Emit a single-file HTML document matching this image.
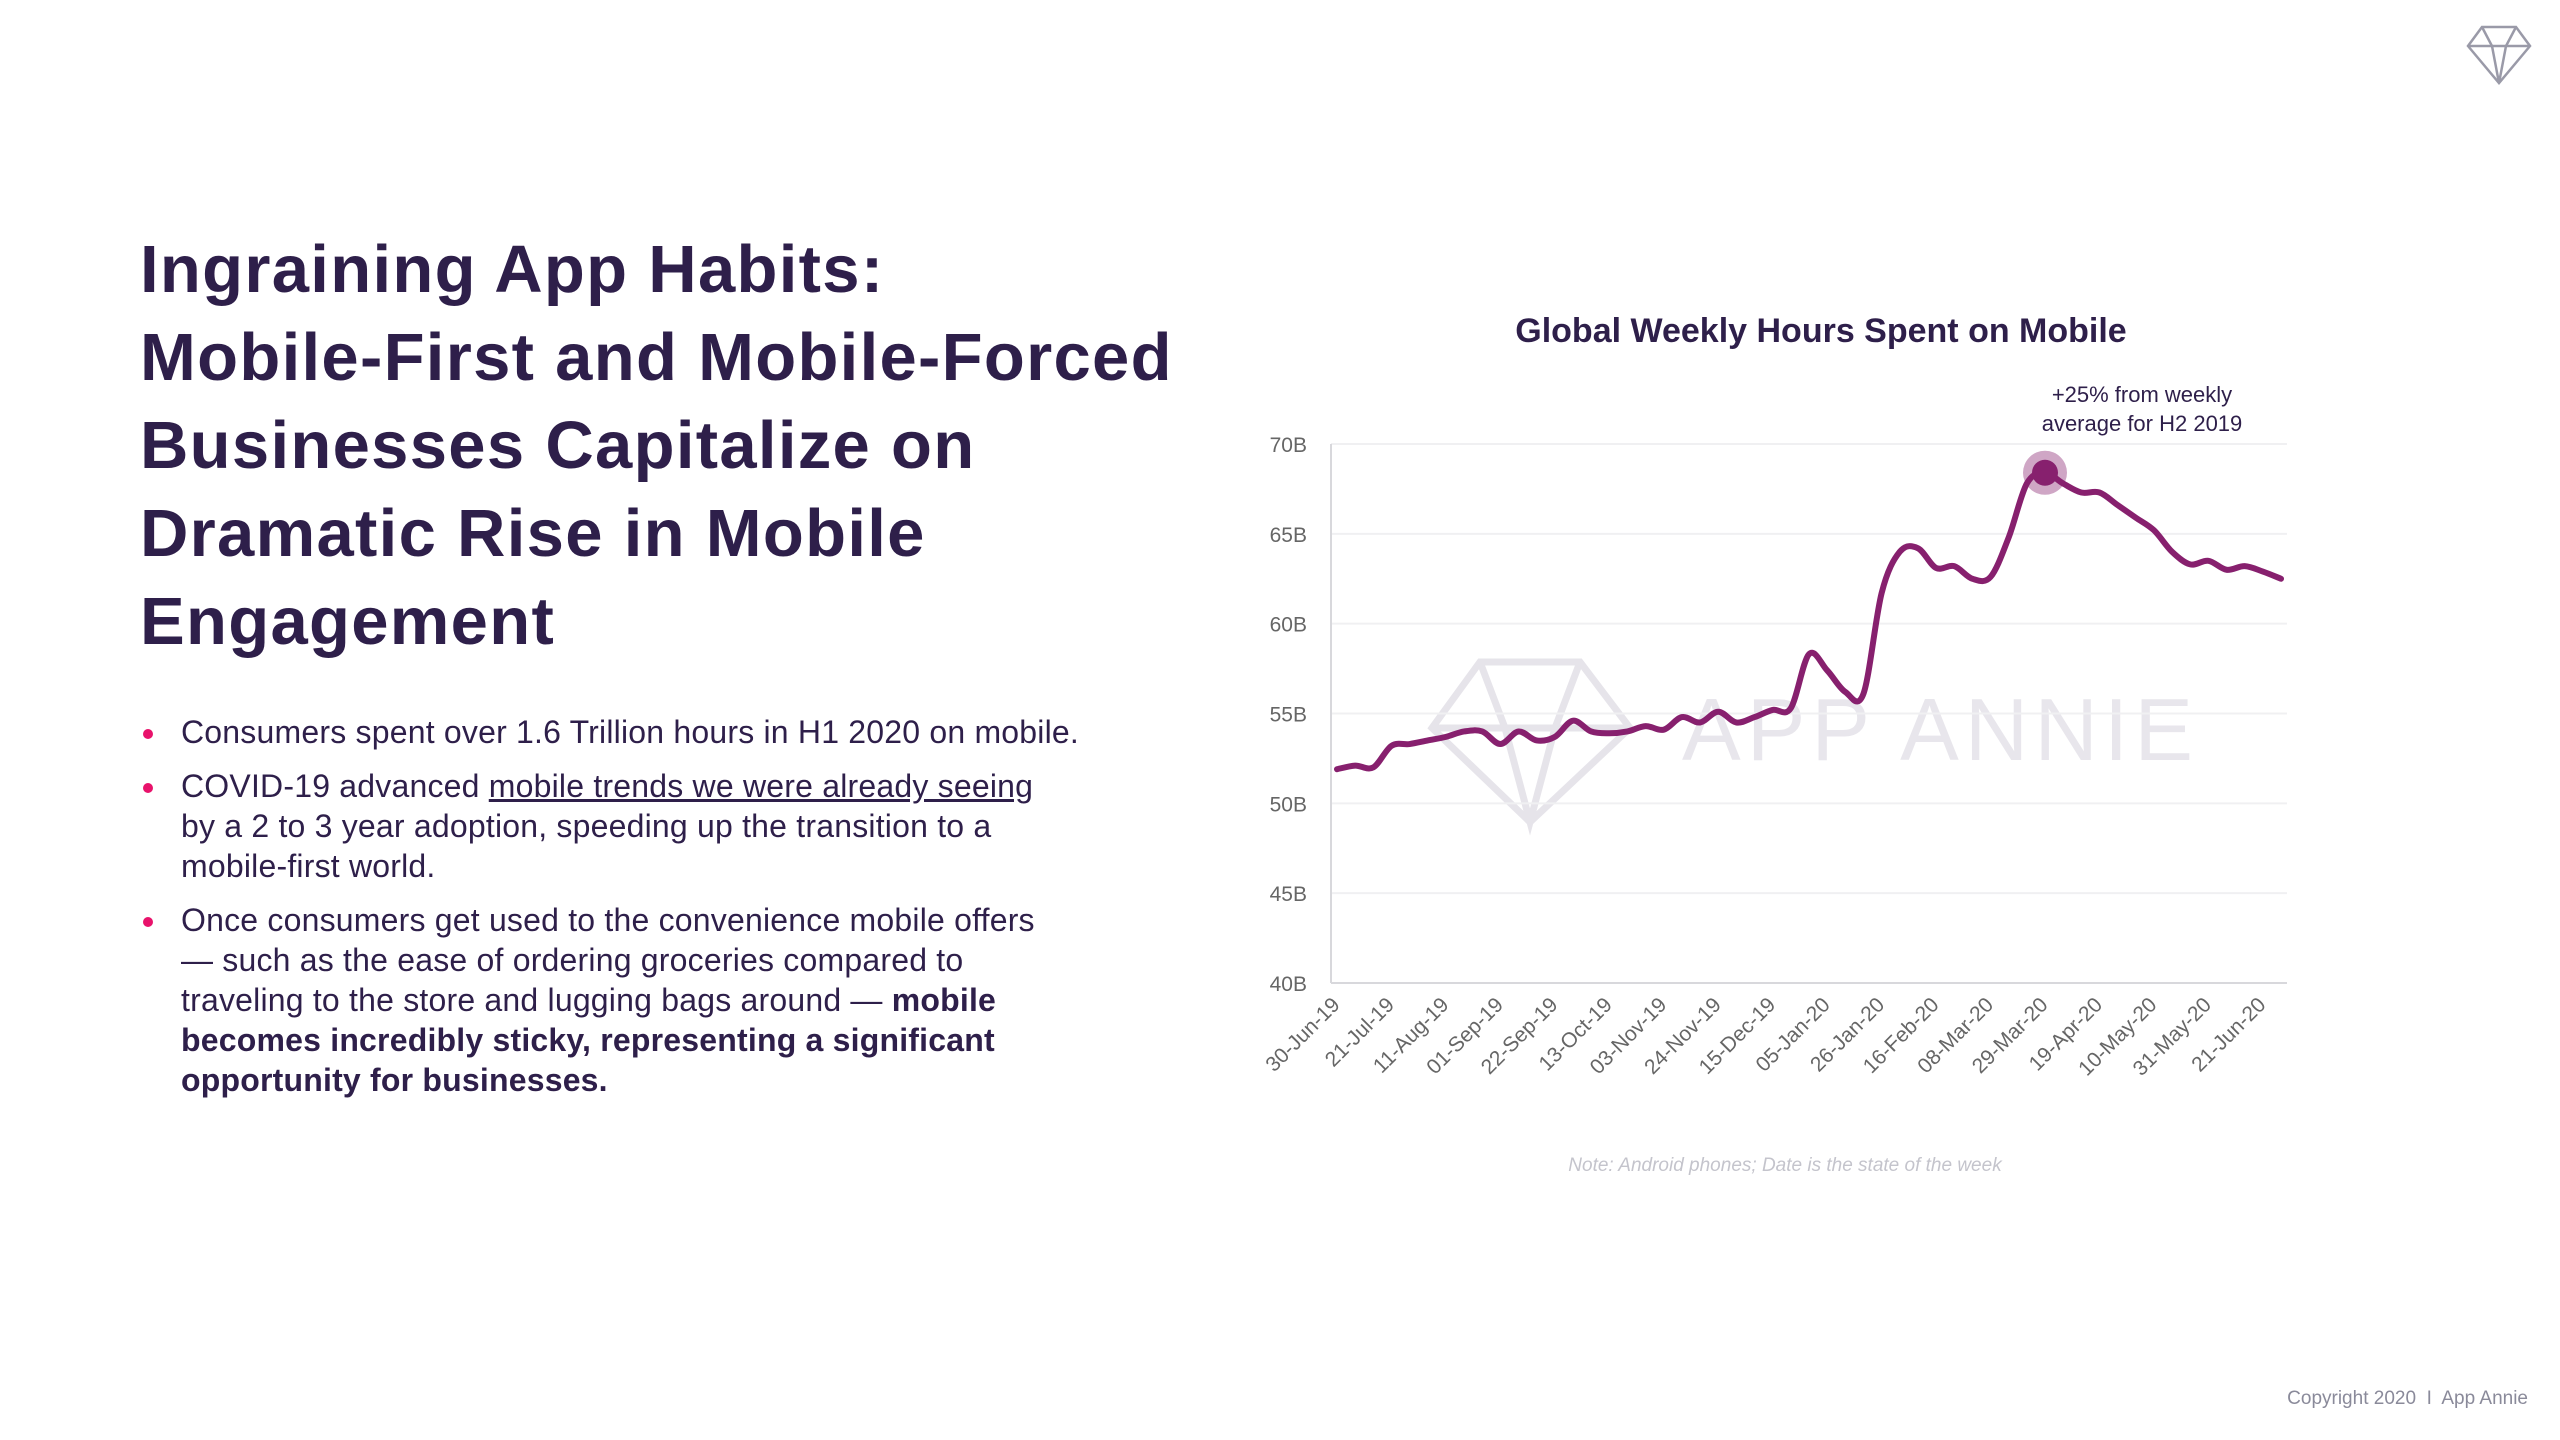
<!DOCTYPE html>
<html><head><meta charset="utf-8">
<style>
html,body{margin:0;padding:0;background:#fff;}
body{width:2560px;height:1440px;position:relative;overflow:hidden;font-family:"Liberation Sans",sans-serif;color:#2e1f4a;}
#title{position:absolute;left:140px;top:226px;font-size:67px;font-weight:bold;line-height:88px;letter-spacing:1.3px;margin:0;color:#2e1f4a;white-space:nowrap;}
ul{position:absolute;left:140px;top:712px;margin:0;padding:0;list-style:none;font-size:32px;letter-spacing:0.2px;line-height:40px;color:#2e1f4a;width:1100px;white-space:nowrap;}
li{position:relative;padding-left:41px;margin-bottom:14px;}
li:before{content:"";position:absolute;left:3px;top:17px;width:10px;height:10px;border-radius:50%;background:#e8126b;}
a{color:#2e1f4a;text-decoration:underline;}
#copy{position:absolute;right:32px;top:1388px;font-size:19px;color:#8a8a9a;}
</style></head>
<body>
<h1 id="title">Ingraining App Habits:<br>Mobile-First and Mobile-Forced<br>Businesses Capitalize on<br>Dramatic Rise in Mobile<br>Engagement</h1>
<ul>
<li>Consumers spent over 1.6 Trillion hours in H1 2020 on mobile.</li>
<li>COVID-19 advanced <a>mobile trends we were already seeing</a><br>by a 2 to 3 year adoption, speeding up the transition to a<br>mobile-first world.</li>
<li>Once consumers get used to the convenience mobile offers<br>— such as the ease of ordering groceries compared to<br>traveling to the store and lugging bags around — <b>mobile<br>becomes incredibly sticky, representing a significant<br>opportunity for businesses.</b></li>
</ul>
<svg style="position:absolute;left:2466px;top:24px" width="66" height="62" viewBox="0 0 66 62">
<g fill="none" stroke="#9a9aa8" stroke-width="2.5"><polygon points="16,3 50,3 64,22 33,59 2,22"/><polyline points="2,22 64,22"/><polyline points="16,3 26,22 33,59 40,22 50,3"/></g></svg>
<div id="copy">Copyright 2020 &nbsp;I&nbsp; App Annie</div>
<svg id="chart" width="2560" height="1440" style="position:absolute;left:0;top:0" font-family="Liberation Sans, sans-serif"></svg>
<script>
const yTicks=[40,45,50,55,60,65,70];
const yTickLabels=["40B","45B","50B","55B","60B","65B","70B"];
const xLabels=["30-Jun-19","21-Jul-19","11-Aug-19","01-Sep-19","22-Sep-19","13-Oct-19","03-Nov-19","24-Nov-19","15-Dec-19","05-Jan-20","26-Jan-20","16-Feb-20","08-Mar-20","29-Mar-20","19-Apr-20","10-May-20","31-May-20","21-Jun-20"];
const values=[51.9,52.1,52.0,53.2,53.3,53.5,53.7,54.0,54.0,53.3,54.0,53.5,53.7,54.6,54.0,53.9,54.0,54.3,54.1,54.8,54.5,55.1,54.5,54.8,55.2,55.3,58.3,57.4,56.2,56.1,61.7,64.0,64.2,63.1,63.2,62.5,62.6,64.8,67.8,68.4,67.8,67.3,67.3,66.6,65.9,65.2,64.0,63.3,63.5,63.0,63.2,62.9,62.5];
const peakIndex=39;
const NS="http://www.w3.org/2000/svg";
const svg=document.getElementById('chart');
const X0=1337,X1=2281,Y0=983,Y1=444,AX=1331,AXR=2287;
const xs=i=>X0+(X1-X0)*i/(values.length-1);
const ys=v=>Y0-(v-40)/(70-40)*(Y0-Y1);
function mk(t,a,p){const e=document.createElementNS(NS,t);for(const k in a)e.setAttribute(k,a[k]);(p||svg).appendChild(e);return e;}
let t=mk('text',{x:1821,y:342,'text-anchor':'middle','font-size':34,'font-weight':'bold',fill:'#2e1f4a'});t.textContent='Global Weekly Hours Spent on Mobile';


const wm=mk('g',{fill:'none',stroke:'#e6e4ea','stroke-width':7});


mk('polygon',{points:'1480,662 1580,662 1630,728 1530,822 1432,728'},wm);
mk('polyline',{points:'1432,728 1630,728'},wm);
mk('polyline',{points:'1480,662 1505,728 1530,822 1555,728 1580,662'},wm);
t=mk('text',{x:1682,y:760,'font-size':88,fill:'#e8e6ec','letter-spacing':6});t.textContent='APP ANNIE';


yTicks.forEach((v,i)=>{
 const l=mk('line',{x1:AX,x2:AXR,y1:ys(v),y2:ys(v),stroke:i==0?'#d8d8dc':'#f0f0f2','stroke-width':2});
 
 
 const tx=mk('text',{x:1307,y:ys(v)+8,'text-anchor':'end','font-size':21,fill:'#666'});tx.textContent=yTickLabels[i];
 
 
});
const ax=mk('line',{x1:AX,x2:AX,y1:Y1,y2:Y0,stroke:'#d8d8dc','stroke-width':2});


xLabels.forEach((s,i)=>{
 const x=xs(i*3)+4,y=1006;
 const tx=mk('text',{x:x,y:y,'text-anchor':'end','font-size':21,fill:'#666',transform:`rotate(-45 ${x} ${y})`});tx.textContent=s;
 
 
});
const pts=values.map((v,i)=>[xs(i),ys(v)]);
let d=`M${pts[0][0]},${pts[0][1]}`;
for(let i=0;i<pts.length-1;i++){const p0=pts[i-1]||pts[i],p1=pts[i],p2=pts[i+1],p3=pts[i+2]||p2;
 d+=` C${p1[0]+(p2[0]-p0[0])/6},${p1[1]+(p2[1]-p0[1])/6} ${p2[0]-(p3[0]-p1[0])/6},${p2[1]-(p3[1]-p1[1])/6} ${p2[0]},${p2[1]}`;}
const line=mk('path',{d:d,fill:'none',stroke:'#87206e','stroke-width':6,'stroke-linejoin':'round','stroke-linecap':'round'});


const halo=mk('circle',{cx:xs(peakIndex),cy:ys(values[peakIndex]),r:22,fill:'#87206e','fill-opacity':0.4});


const pk=mk('circle',{cx:xs(peakIndex),cy:ys(values[peakIndex]),r:13,fill:'#87206e'});


const ann=mk('text',{x:2142,y:402,'text-anchor':'middle','font-size':22,fill:'#2e1f4a'});


mk('tspan',{x:2142,dy:0},ann).textContent='+25% from weekly';
mk('tspan',{x:2142,dy:29},ann).textContent='average for H2 2019';
t=mk('text',{x:1785,y:1171,'text-anchor':'middle','font-size':19,'font-style':'italic',fill:'#c4c4cc'});t.textContent='Note: Android phones; Date is the state of the week';


</script>
</body></html>
